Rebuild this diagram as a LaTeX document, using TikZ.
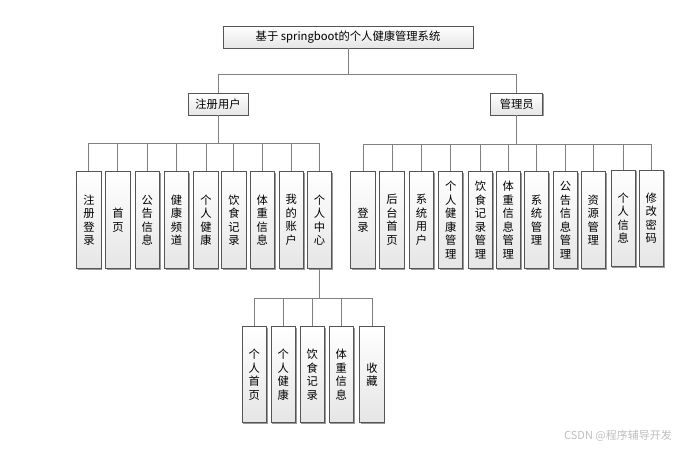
\documentclass[tikz,border=0pt]{standalone}
\usepackage{fontspec}
\setmainfont{Noto Sans CJK SC}
\usetikzlibrary{shadows}
\definecolor{boxline}{HTML}{555555}
\definecolor{connline}{HTML}{808080}
\tikzset{
  box/.style={draw=boxline, line width=0.8pt, top color=white, bottom color=black!10,
    drop shadow={shadow xshift=1.3pt, shadow yshift=-1.3pt, fill=black!40, opacity=1},
    inner sep=0pt, font=\fontsize{11.3}{13.5}\selectfont, text=black},
  hbox/.style={box, minimum height=22pt},
  vbox/.style={box, minimum width=24.3pt, minimum height=96.6pt, align=center},
  conn/.style={draw=connline, line width=1pt}
}
\begin{document}
\begin{tikzpicture}[x=1pt,y=-1pt]
\useasboundingbox[fill=white] (0,0) rectangle (695,450);
% root and level 1
\node[hbox, minimum width=250pt] (title) at (348,37) {基于 springboot的个人健康管理系统};
\node[hbox, minimum width=60pt] (reg) at (218,104) {注册用户};
\node[hbox, minimum width=52pt] (adm) at (516.7,104) {管理员};
% registered user children
\node[vbox] (u1) at (88.9,220) {注\\册\\登\\录};
\node[vbox] (u2) at (117.9,220) {首\\页};
\node[vbox] (u3) at (147.3,220) {公\\告\\信\\息};
\node[vbox] (u4) at (176.5,220) {健\\康\\频\\道};
\node[vbox] (u5) at (206,220) {个\\人\\健\\康};
\node[vbox] (u6) at (233.9,220) {饮\\食\\记\\录};
\node[vbox] (u7) at (262.2,220) {体\\重\\信\\息};
\node[vbox] (u8) at (291.3,220) {我\\的\\账\\户};
\node[vbox] (u9) at (319.5,220) {个\\人\\中\\心};
% admin children
\node[vbox] (a1) at (363,220) {登\\录};
\node[vbox] (a2) at (392,220) {后\\台\\首\\页};
\node[vbox] (a3) at (421.5,220) {系\\统\\用\\户};
\node[vbox] (a4) at (450.7,220) {个\\人\\健\\康\\管\\理};
\node[vbox] (a5) at (480.5,220) {饮\\食\\记\\录\\管\\理};
\node[vbox] (a6) at (508.2,220) {体\\重\\信\\息\\管\\理};
\node[vbox] (a7) at (536.5,220) {系\\统\\管\\理};
\node[vbox] (a8) at (565.5,220) {公\\告\\信\\息\\管\\理};
\node[vbox] (a9) at (593.3,220) {资\\源\\管\\理};
\node[vbox] (a10) at (623.3,218.3) {个\\人\\信\\息};
\node[vbox] (a11) at (651.2,218.3) {修\\改\\密\\码};
% personal center children
\node[vbox] (p1) at (254.2,374.5) {个\\人\\首\\页};
\node[vbox] (p2) at (283.2,374.5) {个\\人\\健\\康};
\node[vbox] (p3) at (312.2,374.5) {饮\\食\\记\\录};
\node[vbox] (p4) at (341.3,374.5) {体\\重\\信\\息};
\node[vbox] (p5) at (372,374.5) {收\\藏};
% connectors
\foreach \c in {reg,adm} \draw[conn] (title.south) -- ++(0,26) -| (\c.north);
\foreach \c in {u1,u2,u3,u4,u5,u6,u7,u8,u9} \draw[conn] (reg.south) -- ++(0,28) -| (\c.north);
\foreach \c in {a1,a2,a3,a4,a5,a6,a7,a8,a9,a10,a11} \draw[conn] (adm.south) -- ++(0,29) -| (\c.north);
\foreach \c in {p1,p2,p3,p4,p5} \draw[conn] (u9.south) -- ++(0,29.7) -| (\c.north);
% watermark
\node[text=black!25, font=\fontsize{11}{13}\selectfont, inner sep=0pt] (wm) at (618,436) {CSDN @程序辅导开发};
\end{tikzpicture}
\end{document}
